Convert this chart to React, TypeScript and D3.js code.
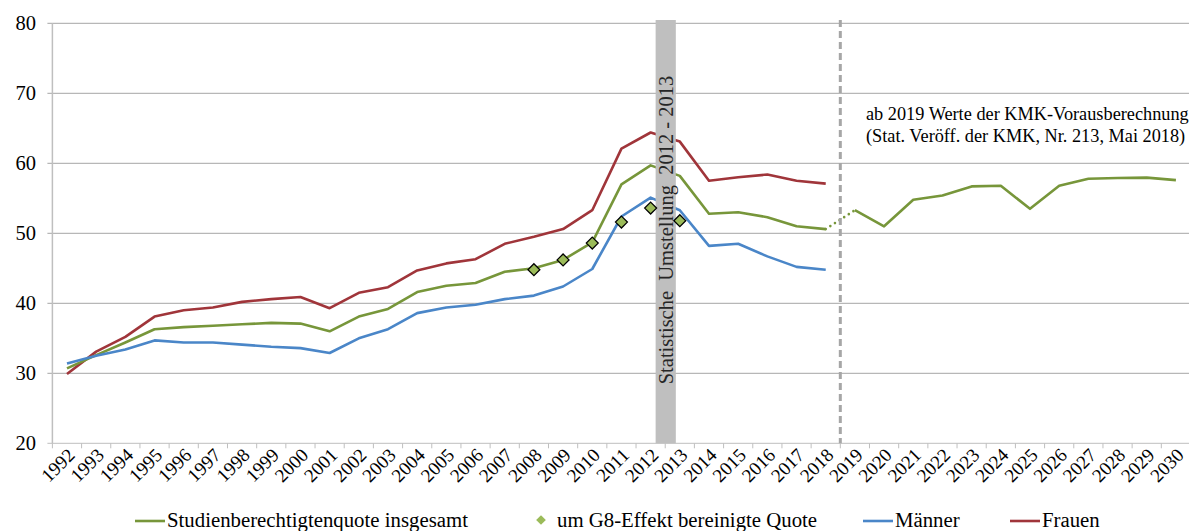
import React from 'react';
import * as d3 from 'd3';

const years = d3.range(1992, 2031).map(String);

const totalYears = years.slice(0, 27); // 1992..2018
const total = [30.7, 32.6, 34.4, 36.3, 36.6, 36.8, 37.0, 37.2, 37.1, 36.0, 38.1, 39.2, 41.6, 42.5, 42.9, 44.5, 45.0, 46.2, 48.7, 57.0, 59.7, 58.2, 52.8, 53.0, 52.3, 51.0, 50.6];
const maenner = [31.4, 32.5, 33.4, 34.7, 34.4, 34.4, 34.1, 33.8, 33.6, 32.9, 35.0, 36.3, 38.6, 39.4, 39.8, 40.6, 41.1, 42.4, 44.9, 52.4, 55.1, 53.3, 48.2, 48.5, 46.7, 45.2, 44.8];
const frauen = [29.9, 33.1, 35.2, 38.1, 39.0, 39.4, 40.2, 40.6, 40.9, 39.3, 41.5, 42.3, 44.7, 45.7, 46.3, 48.5, 49.5, 50.6, 53.3, 62.1, 64.4, 63.1, 57.5, 58.0, 58.4, 57.5, 57.1];

const forecastYears = years.slice(27); // 2019..2030
const forecast = [53.3, 51.0, 54.8, 55.4, 56.7, 56.8, 53.5, 56.8, 57.8, 57.9, 57.95, 57.6];

const g8Years = ['2008', '2009', '2010', '2011', '2012', '2013'];
const g8 = [44.8, 46.2, 48.6, 51.6, 53.6, 51.8];

const yTicks = [20, 30, 40, 50, 60, 70, 80];

const GREEN = '#77963A';
const BLUE = '#4A86C8';
const RED = '#A0353A';
const FONT = '"Liberation Serif", "Times New Roman", serif';

export default function App() {
  const left = 52.4, right = 1190.5, top = 23.3, bottom = 443.3;

  const x = d3.scaleBand<string>().domain(years).range([left, right]).padding(0);
  const cx = (yr: string) => (x(yr) as number) + x.bandwidth() / 2;
  const y = d3.scaleLinear().domain([20, 80]).range([bottom, top]);

  const line = d3.line<[string, number]>().x(d => cx(d[0])).y(d => y(d[1]));

  const pairs = (ys: string[], vs: number[]) => ys.map((yr, i) => [yr, vs[i]] as [string, number]);

  const bandX0 = x('2012') as number + x.bandwidth() / 2 + 5;
  const bandX1 = x('2013') as number + x.bandwidth() / 2 - 4;
  const bandMid = (bandX0 + bandX1) / 2;
  const dashX = x('2019') as number;

  const diamond = d3.symbol().type(d3.symbolDiamond2).size(90)();
  const legendDiamond = d3.symbol().type(d3.symbolDiamond2).size(60)();

  return (
    <svg width={1189} height={531} style={{ position: 'absolute', left: 0, top: 0 }} fontFamily={FONT}>
      <rect width={1189} height={531} fill="#fff" />
      {/* gridlines */}
      {yTicks.map(t => (
        <g key={t}>
          <line x1={left - 5} x2={right} y1={y(t)} y2={y(t)} stroke={t === 20 ? '#BFBFBF' : '#A6A6A6'} strokeWidth={1} />
          <text x={36} y={y(t)} dy="0.35em" textAnchor="end" fontSize={20.5} fill="#000">{t}</text>
        </g>
      ))}
      <line x1={left} x2={left} y1={top} y2={bottom} stroke="#BFBFBF" strokeWidth={1.5} />
      {/* x ticks */}
      {years.map(yr => (
        <line key={'t' + yr} x1={x(yr)} x2={x(yr)} y1={bottom} y2={bottom + 5} stroke="#BFBFBF" strokeWidth={1} />
      ))}
      <line x1={right} x2={right} y1={bottom} y2={bottom + 5} stroke="#BFBFBF" />
      {years.map(yr => (
        <text key={'l' + yr} transform={`translate(${cx(yr) + 9},${bottom + 13}) rotate(-45)`} textAnchor="end" fontSize={19} fill="#000">{yr}</text>
      ))}

      {/* series */}
      <path d={line(pairs(totalYears, frauen)) as string} fill="none" stroke={RED} strokeWidth={2.6} strokeLinejoin="round" />
      <path d={line(pairs(totalYears, total)) as string} fill="none" stroke={GREEN} strokeWidth={2.6} strokeLinejoin="round" />
      <path d={line(pairs(totalYears, maenner)) as string} fill="none" stroke={BLUE} strokeWidth={2.6} strokeLinejoin="round" />
      <path d={line([['2018', total[total.length - 1]], ['2019', forecast[0]]]) as string} fill="none" stroke={GREEN} strokeWidth={2.6} strokeDasharray="0 5.5" strokeLinecap="round" />
      <path d={line(pairs(forecastYears, forecast)) as string} fill="none" stroke={GREEN} strokeWidth={2.6} strokeLinejoin="round" />

      {/* grey band */}
      <rect x={bandX0} y={20} width={bandX1 - bandX0} height={bottom - 20} fill="#BFBFBF" />
      <text transform={`translate(${bandMid + 7},230) rotate(-90)`} textAnchor="middle" fontSize={20.5} fill="#262626" style={{ whiteSpace: 'pre' }}>
        {'Statistische  Umstellung  2012 - 2013'}
      </text>

      {/* projection divider */}
      <line x1={dashX} x2={dashX} y1={20} y2={bottom} stroke="#A6A6A6" strokeWidth={3} strokeDasharray="7 4" />

      {/* diamonds */}
      {g8Years.map((yr, i) => (
        <path key={'d' + yr} d={diamond as string} transform={`translate(${cx(yr)},${y(g8[i])})`} fill="#9BBB59" stroke="#000" strokeWidth={1.3} />
      ))}

      {/* annotation */}
      <text x={866} y={120} fontSize={18.3} fill="#000">ab 2019 Werte der KMK-Vorausberechnung</text>
      <text x={866} y={142} fontSize={18.3} fill="#000">(Stat. Veröff. der KMK, Nr. 213, Mai 2018)</text>

      {/* legend */}
      <line x1={135} x2={165} y1={521} y2={521} stroke={GREEN} strokeWidth={2.6} />
      <text x={167} y={527} fontSize={20.8} fill="#000">Studienberechtigtenquote insgesamt</text>
      <path d={legendDiamond as string} transform="translate(541,520)" fill="#9BBB59" />
      <text x={557} y={527} fontSize={20.8} fill="#000">um G8-Effekt bereinigte Quote</text>
      <line x1={863} x2={893} y1={521} y2={521} stroke={BLUE} strokeWidth={2.6} />
      <text x={895} y={527} fontSize={20.8} fill="#000">Männer</text>
      <line x1={1010} x2={1040} y1={521} y2={521} stroke={RED} strokeWidth={2.6} />
      <text x={1042} y={527} fontSize={20.8} fill="#000">Frauen</text>
    </svg>
  );
}
